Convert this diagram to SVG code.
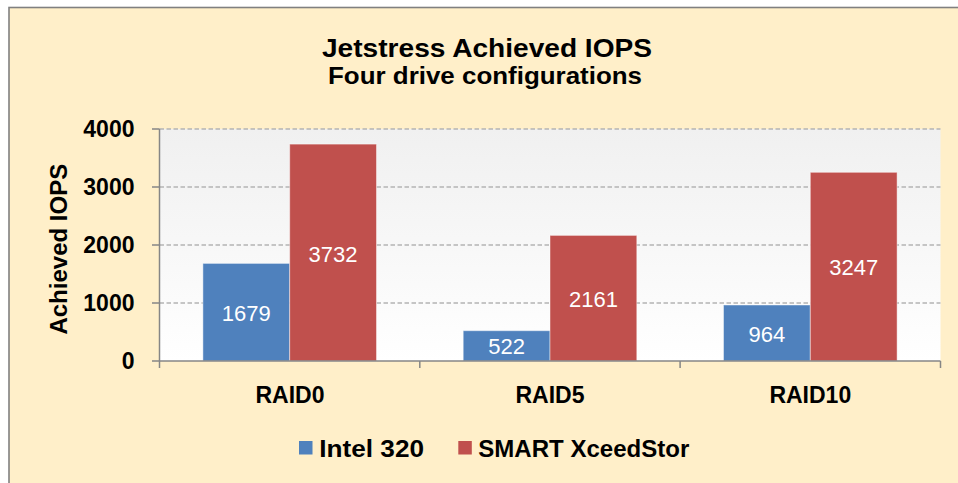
<svg xmlns="http://www.w3.org/2000/svg" width="958" height="483" viewBox="0 0 958 483">
  <defs>
    <linearGradient id="plotbg" x1="0" y1="0" x2="0" y2="1">
      <stop offset="0" stop-color="#f0f0f0"/>
      <stop offset="1" stop-color="#ffffff"/>
    </linearGradient>
    <style>
      .t { font-family: "Liberation Sans", Arial, sans-serif; font-weight: bold; fill: #000; }
      .dl { font-family: "Liberation Sans", Arial, sans-serif; font-size: 22px; fill: #fff; text-anchor: middle; }
      .grid { stroke: #b4b4b4; stroke-width: 1.3; stroke-dasharray: 4.5 2.5; fill: none; }
      .axis { stroke: #868686; stroke-width: 1.5; fill: none; }
      .blue { fill: #4f81bd; stroke: #ffffff; stroke-opacity: 0.45; stroke-width: 1; }
      .red { fill: #c0504d; stroke: #ffffff; stroke-opacity: 0.45; stroke-width: 1; }
    </style>
  </defs>
  <rect x="0" y="0" width="958" height="483" fill="#ffffff"/>
  <rect id="chart-bg" x="9" y="7.5" width="960" height="490" fill="#ffefc9" stroke="#808080" stroke-width="1.6"/>

  <g id="title">
    <text class="t" x="487" y="56.5" font-size="26.5" text-anchor="middle" textLength="330" lengthAdjust="spacingAndGlyphs">Jetstress Achieved IOPS</text>
    <text class="t" x="485" y="84" font-size="24" text-anchor="middle" textLength="314" lengthAdjust="spacingAndGlyphs">Four drive configurations</text>
  </g>

  <g id="plot-area">
    <rect x="159.5" y="129" width="781" height="232" fill="url(#plotbg)"/>
  </g>

  <g id="gridlines">
    <line class="grid" x1="159.5" y1="129" x2="940.5" y2="129"/>
    <line class="grid" x1="159.5" y1="187" x2="940.5" y2="187"/>
    <line class="grid" x1="159.5" y1="245" x2="940.5" y2="245"/>
    <line class="grid" x1="159.5" y1="303" x2="940.5" y2="303"/>
  </g>

  <g id="series-intel">
    <rect class="blue" x="202.9" y="263.4" width="86.8" height="97.6"/>
    <rect class="blue" x="463.2" y="330.7" width="86.8" height="30.3"/>
    <rect class="blue" x="723.5" y="305" width="86.8" height="56"/>
    <text class="dl" x="246.3" y="320.7">1679</text>
    <text class="dl" x="506.6" y="354.3">522</text>
    <text class="dl" x="766.9" y="341.5">964</text>
  </g>

  <g id="series-smart">
    <rect class="red" x="289.7" y="144.1" width="86.8" height="216.9"/>
    <rect class="red" x="550" y="235.4" width="86.8" height="125.6"/>
    <rect class="red" x="810.3" y="172.3" width="86.8" height="188.7"/>
    <text class="dl" x="333.1" y="261.5">3732</text>
    <text class="dl" x="593.4" y="306.7">2161</text>
    <text class="dl" x="853.7" y="275.1">3247</text>
  </g>

  <g id="axes">
    <line class="axis" x1="159.5" y1="129" x2="159.5" y2="361"/>
    <line class="axis" x1="152" y1="129" x2="159.5" y2="129"/>
    <line class="axis" x1="152" y1="187" x2="159.5" y2="187"/>
    <line class="axis" x1="152" y1="245" x2="159.5" y2="245"/>
    <line class="axis" x1="152" y1="303" x2="159.5" y2="303"/>
    <line class="axis" x1="152" y1="361" x2="940.5" y2="361"/>
    <line class="axis" x1="159.5" y1="361" x2="159.5" y2="368"/>
    <line class="axis" x1="419.8" y1="361" x2="419.8" y2="368"/>
    <line class="axis" x1="680.1" y1="361" x2="680.1" y2="368"/>
    <line class="axis" x1="940.5" y1="361" x2="940.5" y2="368"/>
  </g>

  <g id="y-labels" class="t" font-size="23" text-anchor="end">
    <text x="134.5" y="137.3">4000</text>
    <text x="134.5" y="195.3">3000</text>
    <text x="134.5" y="253.3">2000</text>
    <text x="134.5" y="311.3">1000</text>
    <text x="134.5" y="369.3">0</text>
  </g>
  <text id="y-title" class="t" font-size="24" text-anchor="middle" transform="translate(66.5,249.2) rotate(-90)">Achieved IOPS</text>

  <g id="x-labels" class="t" font-size="23" text-anchor="middle">
    <text x="290" y="403">RAID0</text>
    <text x="550" y="403">RAID5</text>
    <text x="810.3" y="403">RAID10</text>
  </g>

  <g id="legend">
    <rect x="299" y="441" width="13.5" height="13.5" fill="#4f81bd"/>
    <text class="t" x="319.3" y="456.7" font-size="24" textLength="104.7" lengthAdjust="spacingAndGlyphs">Intel 320</text>
    <rect x="458.3" y="441" width="13.5" height="13.5" fill="#c0504d"/>
    <text class="t" x="478.3" y="456.7" font-size="24" textLength="211" lengthAdjust="spacingAndGlyphs">SMART XceedStor</text>
  </g>
</svg>
